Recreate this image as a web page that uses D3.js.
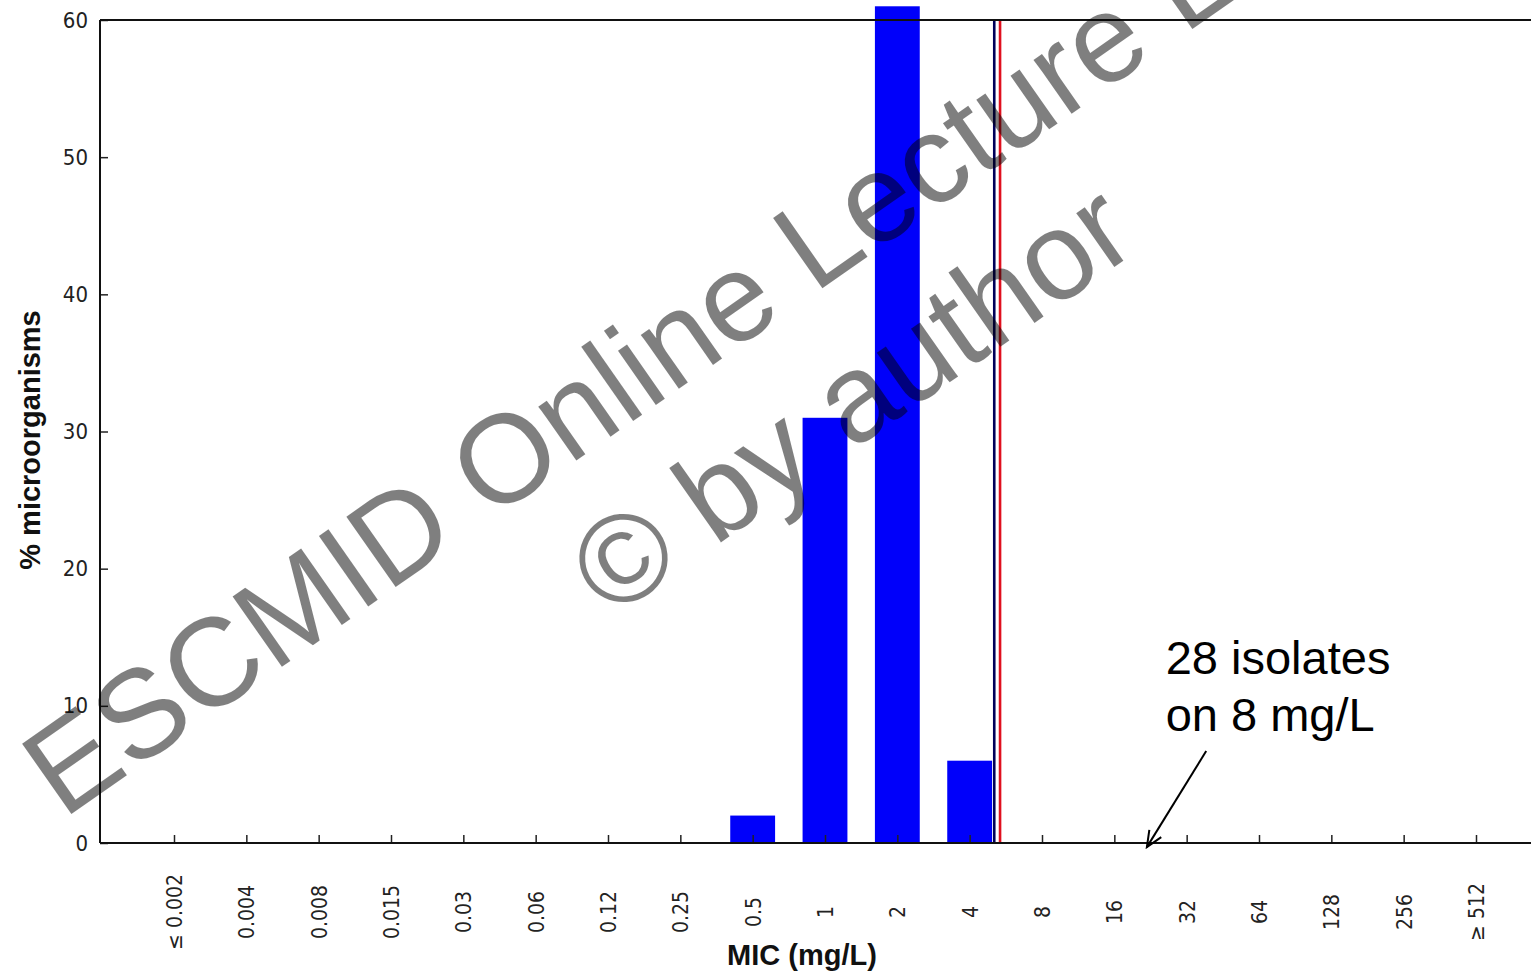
<!DOCTYPE html>
<html>
<head>
<meta charset="utf-8">
<script src="https://cdn.jsdelivr.net/npm/d3@7"></script>
<style>
  html, body { margin: 0; padding: 0; background: #fff; }
  svg { display: block; }
  .tick text { font-family: "Liberation Sans Narrow", "DejaVu Sans Condensed", "Liberation Sans", sans-serif; fill: #222; }
</style>
</head>
<body>
<div id="chart"></div>
<script>
// MIC distribution
const categories = ["≤ 0.002", "0.004", "0.008", "0.015", "0.03", "0.06", "0.12", "0.25", "0.5",
  "1", "2", "4", "8", "16", "32", "64", "128", "256", "≥ 512"];
const percents = [0, 0, 0, 0, 0, 0, 0, 0, 2, 31, 61, 6, 0, 0, 0, 0, 0, 0, 0];
const yTicks = [0, 10, 20, 30, 40, 50, 60];

// breakpoint lines, in category-index units
const breakpointIdx = [11.34, 11.42];
const breakpointColors = ["#00005a", "#e0101e"];

// annotation, in category-index / percent units
const noteLines = ["28 isolates", "on 8 mg/L"];
const noteAt = [13.71, 12.3];
const arrowFrom = [14.27, 6.7];
const arrowTo = [13.45, -0.3];

const watermark = ["ESCMID Online Lecture Library", "© by author"];

const width = 1531, height = 972;
const margin = { top: 20, left: 100, bottom: 129 };

const svg = d3.select("#chart").append("svg")
  .attr("width", width)
  .attr("height", height);

const x = d3.scalePoint()
  .domain(categories)
  .range([174, 1476]);

const xi = d3.scaleLinear()
  .domain([0, categories.length - 1])
  .range([174, 1476]);

const y = d3.scaleLinear()
  .domain([0, 60])
  .range([height - margin.bottom, margin.top]);

const barW = x.step() * 0.62;

// bars
svg.append("g").selectAll("rect")
  .data(percents.map((v, i) => ({ c: categories[i], v })).filter(d => d.v > 0))
  .enter().append("rect")
  .attr("x", d => x(d.c) - barW / 2)
  .attr("width", barW)
  .attr("y", d => y(d.v))
  .attr("height", d => y(0) - y(d.v))
  .attr("fill", "#0000fa");

// breakpoint lines
svg.append("g").selectAll("line")
  .data(breakpointIdx)
  .enter().append("line")
  .attr("x1", d => xi(d)).attr("x2", d => xi(d))
  .attr("y1", y(60)).attr("y2", y(0))
  .attr("stroke", (d, i) => breakpointColors[i])
  .attr("stroke-width", 2.6);

// x axis
const xAxis = svg.append("g")
  .attr("transform", `translate(0,${y(0)})`)
  .call(d3.axisBottom(x).tickSize(-8).tickSizeOuter(0));
xAxis.select(".domain").remove();
xAxis.selectAll(".tick line").attr("stroke", "#222").attr("stroke-width", 1.5);
xAxis.selectAll(".tick text")
  .attr("x", 0).attr("y", 0).attr("dy", "0.35em")
  .attr("transform", "translate(0,69) rotate(-90)")
  .attr("text-anchor", "middle")
  .style("font-size", "21px");

// y axis
const yAxis = svg.append("g")
  .attr("transform", `translate(${margin.left},0)`)
  .call(d3.axisLeft(y).tickValues(yTicks).tickSize(-8).tickPadding(12).tickSizeOuter(0));
yAxis.select(".domain").remove();
yAxis.selectAll(".tick line").attr("stroke", "#222").attr("stroke-width", 1.5);
yAxis.selectAll(".tick text").style("font-size", "22px");

// frame lines
const frame = svg.append("g").attr("stroke", "#111").attr("stroke-width", 2);
frame.append("line").attr("x1", margin.left).attr("x2", width).attr("y1", y(0)).attr("y2", y(0));
frame.append("line").attr("x1", margin.left).attr("x2", width).attr("y1", y(60)).attr("y2", y(60));
frame.append("line").attr("x1", margin.left).attr("x2", margin.left).attr("y1", y(60)).attr("y2", y(0));

// axis titles
svg.append("text")
  .attr("x", 802).attr("y", 965)
  .attr("text-anchor", "middle")
  .style("font-family", "Liberation Sans, Arial, sans-serif")
  .style("font-weight", "bold")
  .style("font-size", "29px")
  .attr("fill", "#111")
  .text("MIC (mg/L)");

svg.append("text")
  .attr("transform", "translate(40,440) rotate(-90)")
  .attr("text-anchor", "middle")
  .style("font-family", "Liberation Sans, Arial, sans-serif")
  .style("font-weight", "bold")
  .style("font-size", "29px")
  .attr("fill", "#111")
  .text("% microorganisms");

// annotation
svg.append("text")
  .attr("x", xi(noteAt[0])).attr("y", y(noteAt[1]))
  .style("font-family", "Liberation Sans, Arial, sans-serif")
  .style("font-size", "47px")
  .attr("fill", "#000")
  .selectAll("tspan")
  .data(noteLines)
  .enter().append("tspan")
  .attr("x", xi(noteAt[0]))
  .attr("dy", (d, i) => i ? 57 : 0)
  .text(d => d);

svg.append("defs").append("marker")
  .attr("id", "arrow")
  .attr("viewBox", "0 0 20 20")
  .attr("refX", 18).attr("refY", 10)
  .attr("markerWidth", 20).attr("markerHeight", 20)
  .attr("markerUnits", "userSpaceOnUse")
  .attr("orient", "auto")
  .append("path")
  .attr("d", "M2,3 L18,10 L2,17")
  .attr("fill", "none")
  .attr("stroke", "#000")
  .attr("stroke-width", 2);

svg.append("line")
  .attr("x1", xi(arrowFrom[0])).attr("y1", y(arrowFrom[1]))
  .attr("x2", xi(arrowTo[0])).attr("y2", y(arrowTo[1]))
  .attr("stroke", "#000")
  .attr("stroke-width", 2)
  .attr("marker-end", "url(#arrow)");

// watermark
svg.append("text")
  .attr("transform", "translate(780,318) rotate(-35)")
  .attr("text-anchor", "middle")
  .style("font-family", "Liberation Sans, Arial, sans-serif")
  .style("font-size", "125px")
  .attr("fill", "#000")
  .attr("fill-opacity", 0.5)
  .selectAll("tspan")
  .data(watermark)
  .enter().append("tspan")
  .attr("x", (d, i) => i * 12)
  .attr("y", (d, i) => i * 150)
  .text(d => d);
</script>
</body>
</html>
